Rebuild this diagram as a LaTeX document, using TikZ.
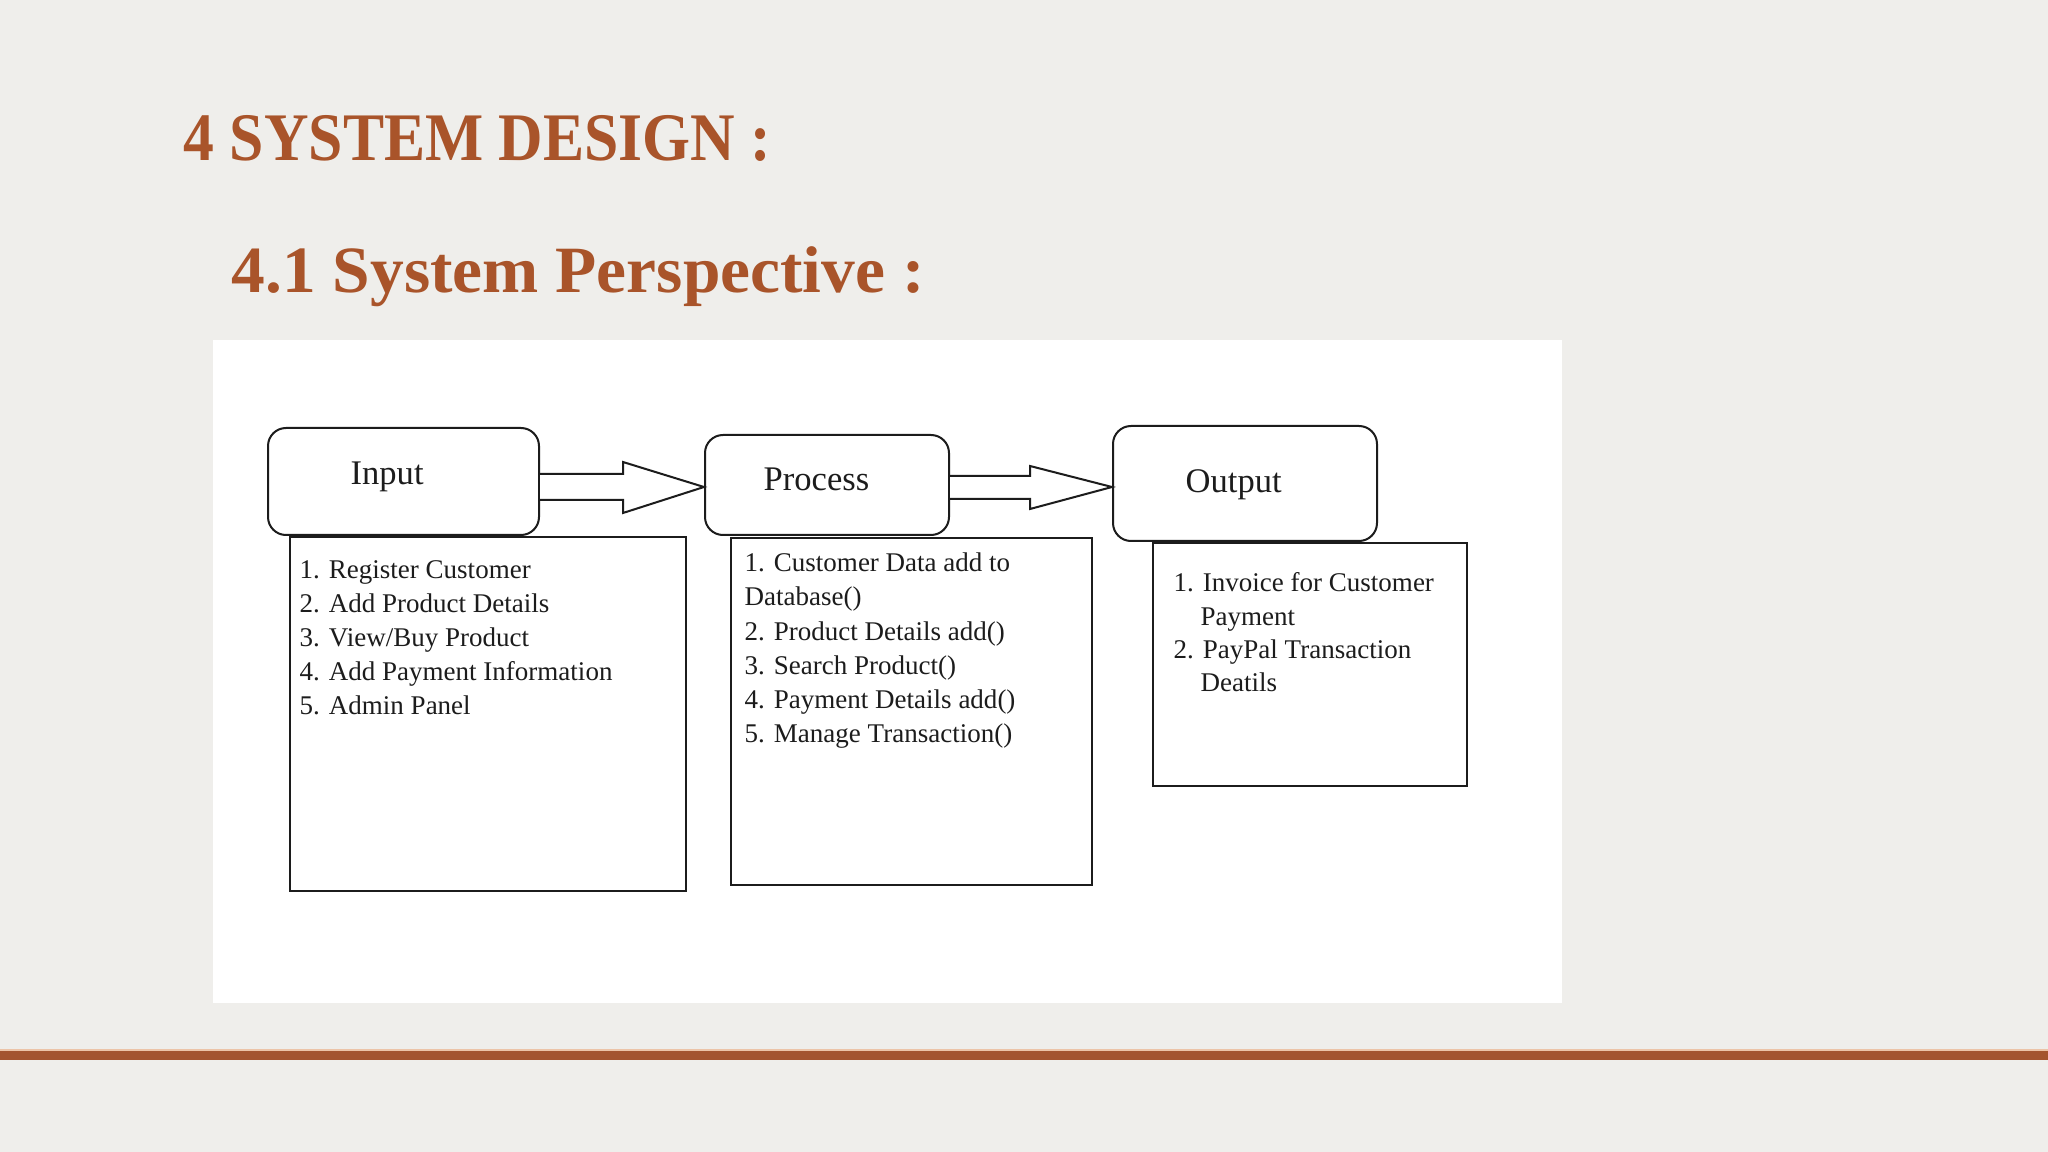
\documentclass[tikz,border=0pt]{standalone}
\usepackage{fontspec}
\setmainfont{Liberation Serif}
\usetikzlibrary{calc,fit}
\definecolor{bgc}{RGB}{239,238,235}
\definecolor{rust}{RGB}{169,84,42}
\definecolor{barc}{RGB}{163,84,47}
\definecolor{peach}{RGB}{236,196,168}
\definecolor{ink}{RGB}{28,28,28}
\begin{document}
\begin{tikzpicture}[x=0.01cm,y=-0.01cm,
  ttl/.style={anchor=base west,inner sep=0,text=rust,font=\bfseries\fontsize{19.35}{22}\selectfont},
  sttl/.style={anchor=base west,inner sep=0,text=rust,font=\bfseries\fontsize{18.8}{22}\selectfont},
  rbox/.style={draw=ink,line width=0.2mm,rounded corners=1.8mm,inner sep=0,fill=white},
  lbox/.style={draw=ink,line width=0.2mm,inner sep=0,fill=white},
  lbl/.style={anchor=base west,inner sep=0,text=ink,font=\fontsize{9.82}{11}\selectfont},
  itm/.style={anchor=base west,inner sep=0,text=ink,font=\fontsize{7.68}{9}\selectfont},
  barrow/.style={draw=ink,line width=0.2mm,fill=white,line join=miter}]
\useasboundingbox (0,0) rectangle (2048,1152);
\fill[bgc] (0,0) rectangle (2048,1152);
\fill[white] (213,340) rectangle (1562,1003);
\fill[barc] (0,1050) rectangle (2048,1060);
\fill[peach] (0,1048.5) rectangle (2048,1050.5);
% titles
\node[ttl] (t1) at (183,161) {\scalebox{0.906}[1]{4 SYSTEM DESIGN :}};
\node[sttl] (t2) at (231,293) {\scalebox{1.02}[1]{4.1 System Perspective :}};
% list boxes
\node[lbox, fit={(290,537)(686,891)}] (inl) {};
\node[lbox, fit={(731,538)(1092,885)}] (procl) {};
\node[lbox, fit={(1153,543)(1467,786)}] (outl) {};
% rounded boxes
\node[rbox, fit={(268,428)(539,535)}] (inp) {};
\node[rbox, fit={(705,435)(949,535)}] (proc) {};
\node[rbox, fit={(1113,426)(1377,541)}] (out) {};
% block arrows
\draw[barrow] ($(inp.east)+(0,-7.5)$) -- ++(83,0) -- ++(0,-12) -- ($(proc.west)+(0,2)$)
  -- ($(inp.east)+(83,31.5)$) -- ++(0,-13) -- ($(inp.east)+(0,18.5)$);
\draw[barrow] ($(proc.east)+(0,-9)$) -- ++(80,0) -- ++(0,-10) -- ($(out.west)+(0,3.5)$)
  -- ($(proc.east)+(80,24)$) -- ++(0,-10) -- ($(proc.east)+(0,14)$);
% labels
\node[lbl] (tin) at (350,485) {Input};
\node[lbl] (tproc) at (763,491) {Process};
\node[lbl] (tout) at (1185,493) {Output};
% input list
\node[itm] (i1) at (299,579) {1. Register Customer};
\node[itm] (i2) at (299,612.8) {2. Add Product Details};
\node[itm] (i3) at (299,646.6) {3. View/Buy Product};
\node[itm] (i4) at (299,680.4) {4. Add Payment Information};
\node[itm] (i5) at (299,714.2) {5. Admin Panel};
% process list
\node[itm] (p1) at (744,572) {1. Customer Data add to};
\node[itm] (p1b) at (744,606) {Database()};
\node[itm] (p2) at (744,640) {2. Product Details add()};
\node[itm] (p3) at (744,674) {3. Search Product()};
\node[itm] (p4) at (744,708) {4. Payment Details add()};
\node[itm] (p5) at (744,742) {5. Manage Transaction()};
% output list
\node[itm] (o1) at (1173,592) {1. Invoice for Customer};
\node[itm] (o1b) at (1200,625) {Payment};
\node[itm] (o2) at (1173,658) {2. PayPal Transaction};
\node[itm] (o2b) at (1200,692) {Deatils};
\end{tikzpicture}
\end{document}
